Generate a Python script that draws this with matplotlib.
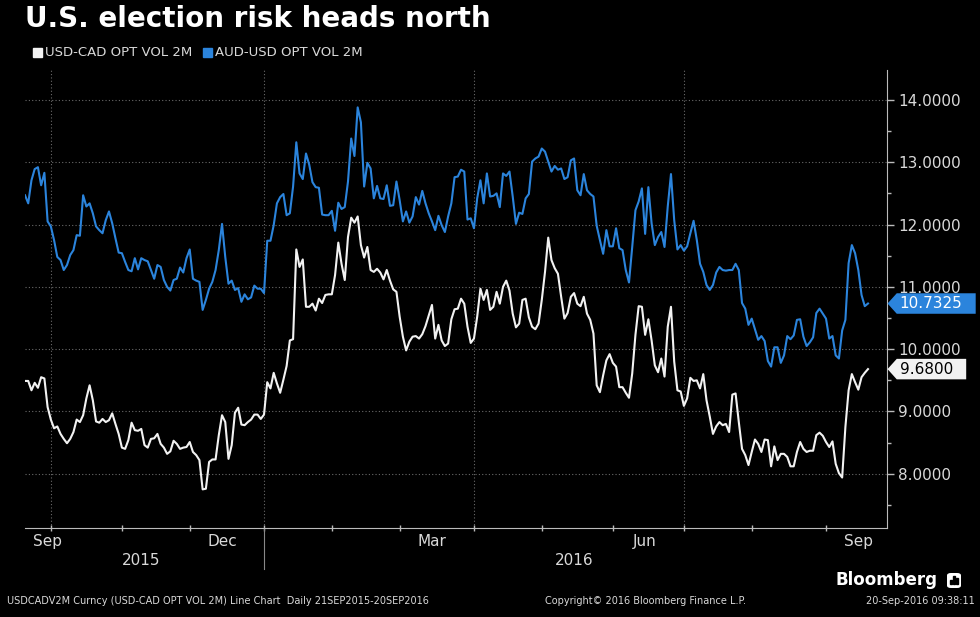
import numpy as np
import pandas as pd
import matplotlib
matplotlib.use("Agg")
import matplotlib.pyplot as plt
import matplotlib.transforms as mtransforms
from matplotlib.path import Path
from matplotlib.patches import FancyBboxPatch, Rectangle

# Datos (lectura del grafico de Bloomberg, dias habiles 21SEP2015-20SEP2016)
title = "U.S. election risk heads north"
series_names = ["USD-CAD OPT VOL 2M", "AUD-USD OPT VOL 2M"]
start_date, end_date = "2015-09-21", "2016-09-20"

usdcad = [
    9.49, 9.49, 9.34, 9.46, 9.38, 9.55, 9.53, 9.07, 8.87, 8.73,
    8.76, 8.64, 8.56, 8.49, 8.56, 8.67, 8.87, 8.83, 8.94, 9.21,
    9.42, 9.18, 8.84, 8.82, 8.88, 8.83, 8.86, 8.97, 8.80, 8.64,
    8.42, 8.40, 8.54, 8.82, 8.70, 8.69, 8.72, 8.46, 8.42, 8.56,
    8.57, 8.64, 8.48, 8.42, 8.32,
    8.36, 8.53, 8.48, 8.40, 8.42, 8.43, 8.51, 8.35, 8.30, 8.22,
    7.75, 7.76, 8.19, 8.23, 8.23, 8.62, 8.94, 8.83, 8.24, 8.46,
    8.98, 9.06, 8.79, 8.78, 8.83, 8.87, 8.95, 8.95, 8.88, 8.95,
    9.47, 9.37, 9.62, 9.45, 9.30, 9.51, 9.73, 10.14, 10.16, 11.60,
    11.32, 11.44, 10.68,
    10.68, 10.73, 10.62, 10.81, 10.74, 10.87, 10.88, 10.88, 11.19, 11.71,
    11.37, 11.11, 11.80, 12.11, 12.03, 12.13, 11.67, 11.47, 11.64, 11.27,
    11.24, 11.29, 11.23, 11.12, 11.27, 11.10, 10.96, 10.92, 10.52, 10.20,
    9.98, 10.12, 10.20, 10.21, 10.17, 10.24, 10.37, 10.54, 10.71, 10.17,
    10.39, 10.14, 10.05,
    10.09, 10.48, 10.64, 10.65, 10.81, 10.73, 10.36, 10.10, 10.17, 10.52,
    10.97, 10.79, 10.95, 10.63, 10.68, 10.92, 10.73, 11.00, 11.10, 10.94,
    10.57, 10.35, 10.41, 10.79, 10.81, 10.51, 10.36, 10.32, 10.41, 10.79,
    11.24, 11.79, 11.43, 11.30, 11.21, 10.84, 10.49, 10.58, 10.84, 10.90,
    10.73, 10.69, 10.84,
    10.57, 10.47, 10.25, 9.42, 9.31, 9.58, 9.82, 9.92, 9.78, 9.72,
    9.39, 9.39, 9.30, 9.22, 9.61, 10.23, 10.69, 10.68, 10.23, 10.48,
    10.14, 9.74, 9.63, 9.85, 9.56, 10.36, 10.68, 9.80, 9.34, 9.32,
    9.09, 9.21, 9.54, 9.49, 9.50, 9.37, 9.60, 9.18, 8.92, 8.64,
    8.76, 8.83, 8.78,
    8.80, 8.67, 9.27, 9.29, 8.83, 8.40, 8.30, 8.14, 8.35, 8.55,
    8.48, 8.35, 8.55, 8.54, 8.12, 8.44, 8.22, 8.32, 8.32, 8.27,
    8.12, 8.12, 8.35, 8.51, 8.40, 8.35, 8.37, 8.37, 8.62, 8.66,
    8.61, 8.51, 8.43, 8.52, 8.16, 8.01, 7.94, 8.75, 9.34, 9.60,
    9.47, 9.35, 9.55, 9.62, 9.68,
]

audusd = [
    12.47, 12.34, 12.71, 12.89, 12.92, 12.63, 12.83, 12.05, 11.97, 11.75,
    11.48, 11.43, 11.27, 11.35, 11.51, 11.59, 11.83, 11.82, 12.47, 12.29,
    12.34, 12.18, 11.97, 11.91, 11.86, 12.07, 12.21, 12.02, 11.78, 11.55,
    11.54, 11.40, 11.27, 11.25, 11.46, 11.28, 11.46, 11.43, 11.41, 11.27,
    11.13, 11.35, 11.32, 11.11, 11.00,
    10.94, 11.11, 11.13, 11.31, 11.23, 11.46, 11.60, 11.13, 11.10, 11.08,
    10.63, 10.79, 10.97, 11.08, 11.27, 11.59, 12.01, 11.48, 11.05, 11.10,
    10.95, 10.98, 10.76, 10.88, 10.80, 10.83, 11.02, 10.97, 10.97, 10.90,
    11.74, 11.74, 11.99, 12.34, 12.44, 12.49, 12.15, 12.18, 12.61, 13.32,
    12.82, 12.73, 13.14,
    12.96, 12.68, 12.60, 12.59, 12.16, 12.15, 12.15, 12.22, 11.90, 12.35,
    12.25, 12.28, 12.69, 13.38, 13.10, 13.88, 13.64, 12.61, 12.99, 12.90,
    12.42, 12.62, 12.42, 12.41, 12.63, 12.30, 12.31, 12.69, 12.39, 12.05,
    12.21, 12.03, 12.13, 12.44, 12.32, 12.54, 12.34, 12.18, 12.05, 11.91,
    12.14, 11.99, 11.88,
    12.13, 12.34, 12.76, 12.77, 12.88, 12.85, 12.08, 12.10, 11.94, 12.42,
    12.71, 12.34, 12.82, 12.45, 12.46, 12.50, 12.28, 12.82, 12.78, 12.85,
    12.45, 12.01, 12.19, 12.17, 12.42, 12.49, 13.01, 13.06, 13.09, 13.22,
    13.17, 13.01, 12.85, 12.94, 12.88, 12.90, 12.73, 12.76, 13.03, 13.06,
    12.55, 12.47, 12.81,
    12.55, 12.49, 12.45, 11.98, 11.75, 11.53, 11.91, 11.65, 11.65, 11.94,
    11.62, 11.59, 11.27, 11.07, 11.64, 12.23, 12.37, 12.58, 11.85, 12.60,
    12.02, 11.67, 11.80, 11.88, 11.64, 12.29, 12.81, 12.07, 11.60, 11.67,
    11.58, 11.65, 11.86, 12.06, 11.75, 11.37, 11.24, 11.03, 10.95, 11.03,
    11.23, 11.32, 11.27,
    11.26, 11.27, 11.27, 11.37, 11.27, 10.74, 10.65, 10.39, 10.49, 10.32,
    10.15, 10.21, 10.13, 9.81, 9.72, 10.03, 10.03, 9.78, 9.90, 10.21,
    10.16, 10.22, 10.47, 10.48, 10.20, 10.05, 10.11, 10.19, 10.58, 10.65,
    10.57, 10.49, 10.17, 10.21, 9.90, 9.85, 10.30, 10.47, 11.38, 11.67,
    11.54, 11.27, 10.87, 10.69, 10.7325,
]

y_ticks = [8, 9, 10, 11, 12, 13, 14]
month_labels = ["Sep", "Dec", "Mar", "Jun", "Sep"]
month_label_dates = ["2015-09-30", "2015-12-15", "2016-03-15", "2016-06-15", "2016-09-15"]
year_labels = ["2015", "2016"]
year_label_dates = ["2015-11-10", "2016-05-16"]
grid_dates = ["2015-10-01", "2016-01-01", "2016-04-01", "2016-07-01"]

white = "#f2f2f2"
blue = "#2b84dc"
grey_text = "#d9d9d9"
grid_col = "#6a6a6a"

# Bloomberg espacia los dias habiles de forma uniforme
dates = pd.bdate_range(start_date, end_date)
df = pd.DataFrame({"usdcad": usdcad, "audusd": audusd}, index=dates)
pos = np.arange(len(df))


def date_pos(d):
    return dates.searchsorted(pd.Timestamp(d))


plt.rcParams["font.family"] = ["DejaVu Sans"]

fig = plt.figure(figsize=(9.8, 6.17), dpi=100)
fig.patch.set_facecolor("black")
ax = fig.add_axes([25 / 980, 1 - 528 / 617, 862 / 980, 458 / 617])
ax.set_facecolor("black")

ax.plot(pos, df["audusd"], color=blue, lw=1.5, solid_joinstyle="round")
ax.plot(pos, df["usdcad"], color=white, lw=1.5, solid_joinstyle="round")

ax.set_xlim(0, (len(df) - 1) * 862 / 843)
ax.set_ylim(7.13, 14.48)

# eje y a la derecha
ax.yaxis.tick_right()
ax.set_yticks(y_ticks)
ax.set_yticklabels([f"{v:.4f}" for v in y_ticks])
ax.set_yticks([v + 0.5 for v in range(7, 14)], minor=True)
ax.tick_params(axis="y", which="major", colors="#bbbbbb", labelcolor=grey_text,
               labelsize=11, length=5, width=1, pad=3)
ax.tick_params(axis="y", which="minor", colors="#bbbbbb", length=3, width=1)

# eje x: marcas al inicio de cada mes, etiquetas aparte
month_starts = np.flatnonzero(np.r_[False, dates.month[1:] != dates.month[:-1]])
ax.set_xticks(month_starts)
ax.set_xticklabels([])
ax.tick_params(axis="x", which="major", colors="#bbbbbb", length=4, width=1, direction="inout")

for s in ["left", "top"]:
    ax.spines[s].set_visible(False)
ax.spines["right"].set_color("#bbbbbb")
ax.spines["bottom"].set_color("#bbbbbb")

# rejilla punteada
for v in y_ticks:
    ax.axhline(v, color=grid_col, lw=0.8, ls=(0, (1, 2)), zorder=0)
for d in grid_dates:
    ax.axvline(date_pos(d), color=grid_col, lw=0.8, ls=(0, (1, 2)), zorder=0)

trans = mtransforms.blended_transform_factory(ax.transData, ax.transAxes)
for lab, d in zip(month_labels, month_label_dates):
    ax.text(date_pos(d), -0.03, lab, transform=trans, ha="center", va="center",
            color=grey_text, fontsize=11)
for lab, d in zip(year_labels, year_label_dates):
    ax.text(date_pos(d), -0.072, lab, transform=trans, ha="center", va="center",
            color=grey_text, fontsize=11)
ax.plot([date_pos("2016-01-01")] * 2, [0, -0.09], transform=trans,
        color="#888888", lw=0.8, clip_on=False)


# etiqueta del ultimo valor
def tag_box(x0, y0, width, height, mutation_size):
    pad = 0.18 * mutation_size
    x0, y0 = x0 - pad, y0 - pad
    x1, y1 = x0 + width + 2 * pad + 0.7 * mutation_size, y0 + height + 2 * pad
    tip = 0.45 * (y1 - y0)
    ym = 0.5 * (y0 + y1)
    return Path([(x0, y0), (x1, y0), (x1, y1), (x0, y1), (x0 - tip, ym), (x0, y0)], closed=True)


trans_r = mtransforms.blended_transform_factory(ax.transAxes, ax.transData)
for val, txt_col, box_col in [(audusd[-1], "white", blue), (usdcad[-1], "black", white)]:
    ax.annotate(f"{val:.4f}", xy=(1, val), xycoords=trans_r, xytext=(9, 0),
                textcoords="offset points", ha="left", va="center", fontsize=11,
                color=txt_col, annotation_clip=False,
                bbox=dict(boxstyle=tag_box, fc=box_col, ec="none"))

# titulo y leyenda
fig.text(25 / 980, 1 - 19 / 617, title, color="white", fontsize=20, fontweight="bold",
         ha="left", va="center")
leg_x = [33, 203]
for name, col, lx in zip(series_names, [white, blue], leg_x):
    fig.patches.append(Rectangle((lx / 980, 1 - 57 / 617), 9 / 980, 9 / 617,
                                 transform=fig.transFigure, color=col))
    fig.text((lx + 12) / 980, 1 - 53 / 617, name, color=grey_text, fontsize=9.5,
             ha="left", va="center")

# pie de pagina
fig.text(7 / 980, 1 - 601 / 617,
         "USDCADV2M Curncy (USD-CAD OPT VOL 2M) Line Chart  Daily 21SEP2015-20SEP2016",
         color=grey_text, fontsize=7, ha="left", va="center")
fig.text(545 / 980, 1 - 601 / 617, "Copyright\u00a9 2016 Bloomberg Finance L.P.",
         color=grey_text, fontsize=7, ha="left", va="center")
fig.text(975 / 980, 1 - 601 / 617, "20-Sep-2016 09:38:11",
         color=grey_text, fontsize=7, ha="right", va="center")
fig.text(937 / 980, 1 - 580 / 617, "Bloomberg", color="white", fontsize=12,
         fontweight="bold", ha="right", va="center")
fig.patches.append(FancyBboxPatch((947 / 980, 1 - 588 / 617), 14 / 980, 15 / 617,
                                  boxstyle="round,pad=0,rounding_size=0.004",
                                  transform=fig.transFigure, fc="white", ec="none"))
for bx, bh in zip([950, 953, 956], [4, 8, 6]):
    fig.patches.append(Rectangle((bx / 980, 1 - 584 / 617), 2 / 980, bh / 617,
                                 transform=fig.transFigure, color="black"))

plt.savefig("out.png", dpi=100, facecolor="black")
plt.close()
